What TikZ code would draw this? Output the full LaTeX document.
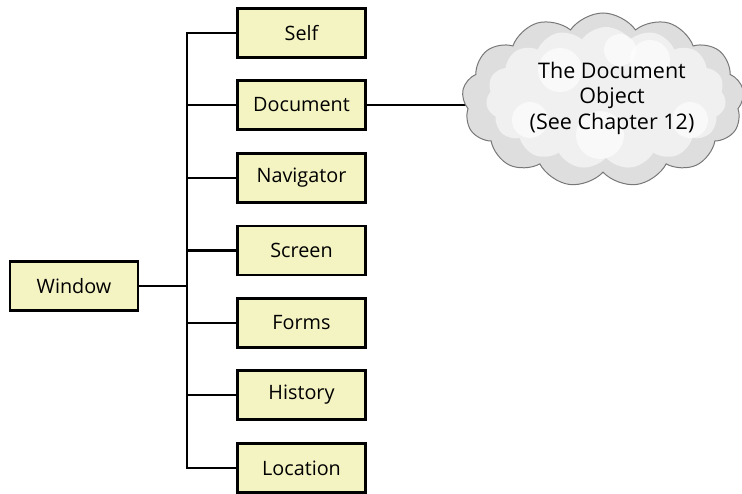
\documentclass[tikz,border=0pt]{standalone}
\usepackage{fontspec}
\setmainfont{Open Sans}
\usetikzlibrary{shapes.symbols}
\definecolor{boxfill}{RGB}{244,243,194}
\definecolor{cloudedge}{RGB}{120,120,120}
\definecolor{cloudfill}{RGB}{222,222,222}
\definecolor{cloudin}{RGB}{240,240,240}
\begin{document}
\begin{tikzpicture}[x=1pt,y=-1pt,
  objbox/.style={draw=black, line width=2.6pt, fill=boxfill, minimum width=128pt, minimum height=49pt, inner sep=0pt, font=\fontsize{19.8}{22}\selectfont},
  conn/.style={draw=black, line width=2.6pt},
  cloudshape/.style={cloud, cloud puffs=13, cloud puff arc=110, aspect=1.6, inner sep=0pt}]
\useasboundingbox (0,0) rectangle (742,494);
\node[objbox] (window) at (74,286) {Window};
\node[objbox] (self) at (301.5,33) {Self};
\node[objbox] (document) at (301.5,105) {Document};
\node[objbox] (navigator) at (301.5,178) {Navigator};
\node[objbox] (screen) at (301.5,250.5) {Screen};
\node[objbox] (forms) at (301.5,323) {Forms};
\node[objbox] (history) at (301.5,395) {History};
\node[objbox] (location) at (301.5,468) {Location};
\coordinate (bustop) at (187,33);
\coordinate (busbot) at (187,468);
\draw[conn] (self.west) -- (bustop) -- (busbot) -- (location.west);
\foreach \n in {document,navigator,screen,forms,history}
  \draw[conn] (\n.west) -- (\n.west -| bustop);
\draw[conn] (window.east) -- (window.east -| bustop);
\coordinate (cloudleft) at (466,105);
\draw[conn] (document.east) -- (cloudleft);
\node[cloudshape, draw=cloudedge, line width=1pt, fill=cloudfill, minimum width=282pt, minimum height=174pt] (cloud) at (603,100) {};
\node[cloudshape, fill=cloudin, minimum width=240pt, minimum height=142pt, cloud puffs=15] (cloudinner) at (606,98) {};
\foreach \p/\r in {{560,70}/22,{650,60}/20,{600,135}/24,{690,120}/18,{530,120}/18,{620,50}/16}
  \fill[white, opacity=0.6] (\p) circle (\r);
\node[align=center, font=\fontsize{21.5}{25.5}\selectfont] (cloudtext) at (612,98) {The Document\\Object\\(See Chapter 12)};
\end{tikzpicture}
\end{document}
